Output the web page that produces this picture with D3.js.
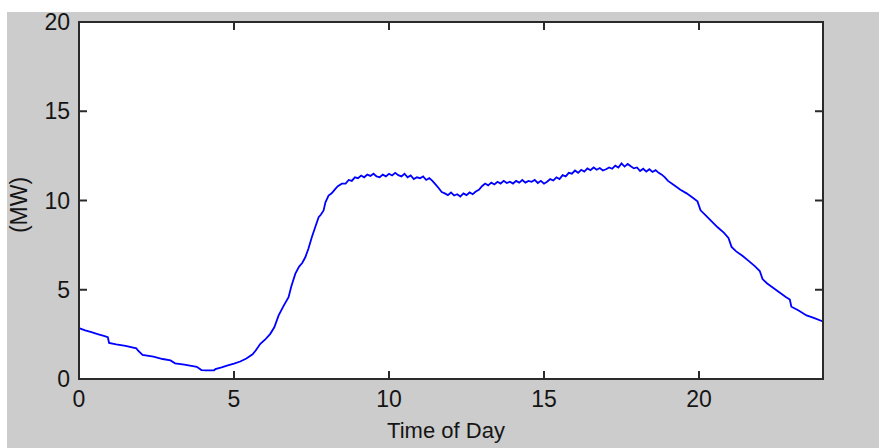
<!DOCTYPE html>
<html>
<head>
<meta charset="utf-8">
<script src="https://cdn.jsdelivr.net/npm/d3@7"></script>
<style>
  body { margin: 0; background: #fff; }
  text { font-family: Arial, "Liberation Sans", sans-serif; fill: #151515; }
</style>
</head>
<body>
<script>
//Data: hour of day and load in MW.
var hours = [0, 0.2, 0.4, 0.6, 0.8, 0.93, 0.97, 1.2, 1.5, 1.85, 1.9, 2.05, 2.4, 2.7, 2.95, 3.1, 3.4, 3.8, 3.95, 4.1,
  4.35, 4.4, 4.6, 4.8, 5.0, 5.2, 5.4, 5.6, 5.7, 5.85, 6.0, 6.17, 6.3, 6.44, 6.6, 6.76, 6.85, 6.98, 7.1, 7.2,
  7.3, 7.4, 7.51, 7.6, 7.73, 7.8, 7.89, 7.95, 8.05, 8.15, 8.27, 8.35, 8.48, 8.6, 8.7, 8.8, 8.9, 9.0, 9.1, 9.2,
  9.3, 9.4, 9.5, 9.6, 9.7, 9.8, 9.9, 10.0, 10.1, 10.2, 10.3, 10.4, 10.5, 10.6, 10.7, 10.8, 10.9, 11.0, 11.1, 11.2,
  11.3, 11.4, 11.5, 11.6, 11.7, 11.8, 11.9, 12.0, 12.1, 12.2, 12.3, 12.4, 12.5, 12.6, 12.7, 12.8, 12.9, 13.0, 13.1, 13.2,
  13.3, 13.4, 13.5, 13.6, 13.7, 13.8, 13.9, 14.0, 14.1, 14.2, 14.3, 14.4, 14.5, 14.6, 14.7, 14.8, 14.9, 15.0, 15.1, 15.2,
  15.3, 15.4, 15.5, 15.6, 15.7, 15.8, 15.9, 16.0, 16.1, 16.2, 16.3, 16.4, 16.5, 16.6, 16.7, 16.8, 16.9, 17.0, 17.1, 17.2,
  17.3, 17.4, 17.5, 17.6, 17.7, 17.8, 17.9, 18.0, 18.1, 18.2, 18.3, 18.4, 18.5, 18.6, 18.7, 18.8, 18.9, 19.0, 19.2, 19.4,
  19.6, 19.8, 19.95, 20.05, 20.2, 20.4, 20.6, 20.8, 20.95, 21.05, 21.2, 21.4, 21.6, 21.8, 21.96, 22.05, 22.2, 22.4, 22.6, 22.8,
  22.93, 22.98, 23.2, 23.47, 23.7, 24.0];
var loadMW = [2.85, 2.72, 2.62, 2.52, 2.42, 2.34, 2.02, 1.94, 1.85, 1.72, 1.6, 1.35, 1.25, 1.12, 1.04, 0.88, 0.8, 0.68, 0.5, 0.48,
  0.48, 0.55, 0.65, 0.76, 0.86, 0.98, 1.15, 1.38, 1.6, 1.97, 2.2, 2.53, 2.9, 3.56, 4.1, 4.58, 5.2, 5.9, 6.3, 6.5,
  6.82, 7.3, 7.94, 8.4, 9.06, 9.2, 9.44, 9.9, 10.28, 10.4, 10.65, 10.8, 10.94, 10.95, 11.15, 11.1, 11.3, 11.25, 11.4, 11.3,
  11.45, 11.38, 11.5, 11.35, 11.3, 11.45, 11.35, 11.5, 11.4, 11.55, 11.42, 11.35, 11.5, 11.3, 11.4, 11.2, 11.3, 11.25, 11.35, 11.15,
  11.25, 11.1, 10.9, 10.7, 10.47, 10.4, 10.3, 10.45, 10.28, 10.35, 10.22, 10.4, 10.3, 10.45, 10.35, 10.5, 10.6, 10.8, 10.95, 10.85,
  11.0, 10.9, 11.05, 10.95, 11.1, 10.98, 11.05, 10.95, 11.1, 11.0, 11.15, 11.0, 11.1, 11.05, 11.15, 10.98, 11.1, 10.94, 11.05, 11.2,
  11.12, 11.3, 11.2, 11.42, 11.35, 11.55, 11.5, 11.68, 11.55, 11.72, 11.62, 11.8, 11.7, 11.85, 11.72, 11.82, 11.68, 11.75, 11.85, 11.78,
  11.95, 11.85, 12.08, 11.9, 12.05, 11.92, 11.8, 11.85, 11.65, 11.78, 11.62, 11.75, 11.6, 11.7, 11.55, 11.45, 11.3, 11.1, 10.85, 10.6,
  10.4, 10.15, 9.95, 9.45, 9.2, 8.85, 8.5, 8.2, 7.9, 7.4, 7.15, 6.9, 6.62, 6.32, 6.05, 5.6, 5.35, 5.1, 4.85, 4.6,
  4.45, 4.05, 3.85, 3.56, 3.42, 3.22];

//Tick values for both axes.
var xTicks = [0, 5, 10, 15, 20];
var yTicks = [0, 5, 10, 15, 20];

var width = 879;
var height = 448;
var tickLen = 8;

//Scales, plot box goes from (79,22) to (823,379).
var x = d3.scaleLinear().domain([0, 24]).range([79, 823]);
var y = d3.scaleLinear().domain([0, 20]).range([379, 22]);

var svg = d3.select("body").append("svg")
  .attr("width", width)
  .attr("height", height);

//Grey figure background.
svg.append("rect")
  .attr("x", 7).attr("y", 12)
  .attr("width", width - 7).attr("height", height - 12)
  .attr("fill", "#cccccc");

//White axes area.
svg.append("rect")
  .attr("x", x(0)).attr("y", y(20))
  .attr("width", x(24) - x(0)).attr("height", y(0) - y(20))
  .attr("fill", "#fff");

//The load curve.
var points = hours.map(function (h, i) { return [h, loadMW[i]]; });
var line = d3.line()
  .x(function (d) { return x(d[0]); })
  .y(function (d) { return y(d[1]); });

svg.append("path")
  .datum(points)
  .attr("d", line)
  .attr("fill", "none")
  .attr("stroke", "#0000ff")
  .attr("stroke-width", 1.8)
  .attr("stroke-linejoin", "miter");

//Box around the axes.
svg.append("rect")
  .attr("x", x(0)).attr("y", y(20))
  .attr("width", x(24) - x(0)).attr("height", y(0) - y(20))
  .attr("fill", "none")
  .attr("stroke", "#2a2a2a")
  .attr("stroke-width", 2);

//Ticks pointing inwards, on all four sides.
var ticks = svg.append("g").attr("stroke", "#2a2a2a").attr("stroke-width", 2);
xTicks.forEach(function (t) {
  ticks.append("line").attr("x1", x(t)).attr("x2", x(t)).attr("y1", y(0)).attr("y2", y(0) - tickLen);
  ticks.append("line").attr("x1", x(t)).attr("x2", x(t)).attr("y1", y(20)).attr("y2", y(20) + tickLen);
});
yTicks.forEach(function (t) {
  ticks.append("line").attr("x1", x(0)).attr("x2", x(0) + tickLen).attr("y1", y(t)).attr("y2", y(t));
  ticks.append("line").attr("x1", x(24)).attr("x2", x(24) - tickLen).attr("y1", y(t)).attr("y2", y(t));
});

//Tick labels.
svg.selectAll(".xlab").data(xTicks).enter().append("text")
  .attr("class", "xlab")
  .attr("x", function (d) { return x(d); })
  .attr("y", 407)
  .attr("text-anchor", "middle")
  .style("font-size", "23px")
  .text(function (d) { return d; });

svg.selectAll(".ylab").data(yTicks).enter().append("text")
  .attr("class", "ylab")
  .attr("x", 70)
  .attr("y", function (d) { return y(d) + 8; })
  .attr("text-anchor", "end")
  .style("font-size", "23px")
  .text(function (d) { return d; });

//Axis titles.
svg.append("text")
  .attr("x", 446)
  .attr("y", 438)
  .attr("text-anchor", "middle")
  .style("font-size", "22px")
  .text("Time of Day");

svg.append("text")
  .attr("transform", "translate(27,205) rotate(-90)")
  .attr("text-anchor", "middle")
  .style("font-size", "23px")
  .text("(MW)");
</script>
</body>
</html>
